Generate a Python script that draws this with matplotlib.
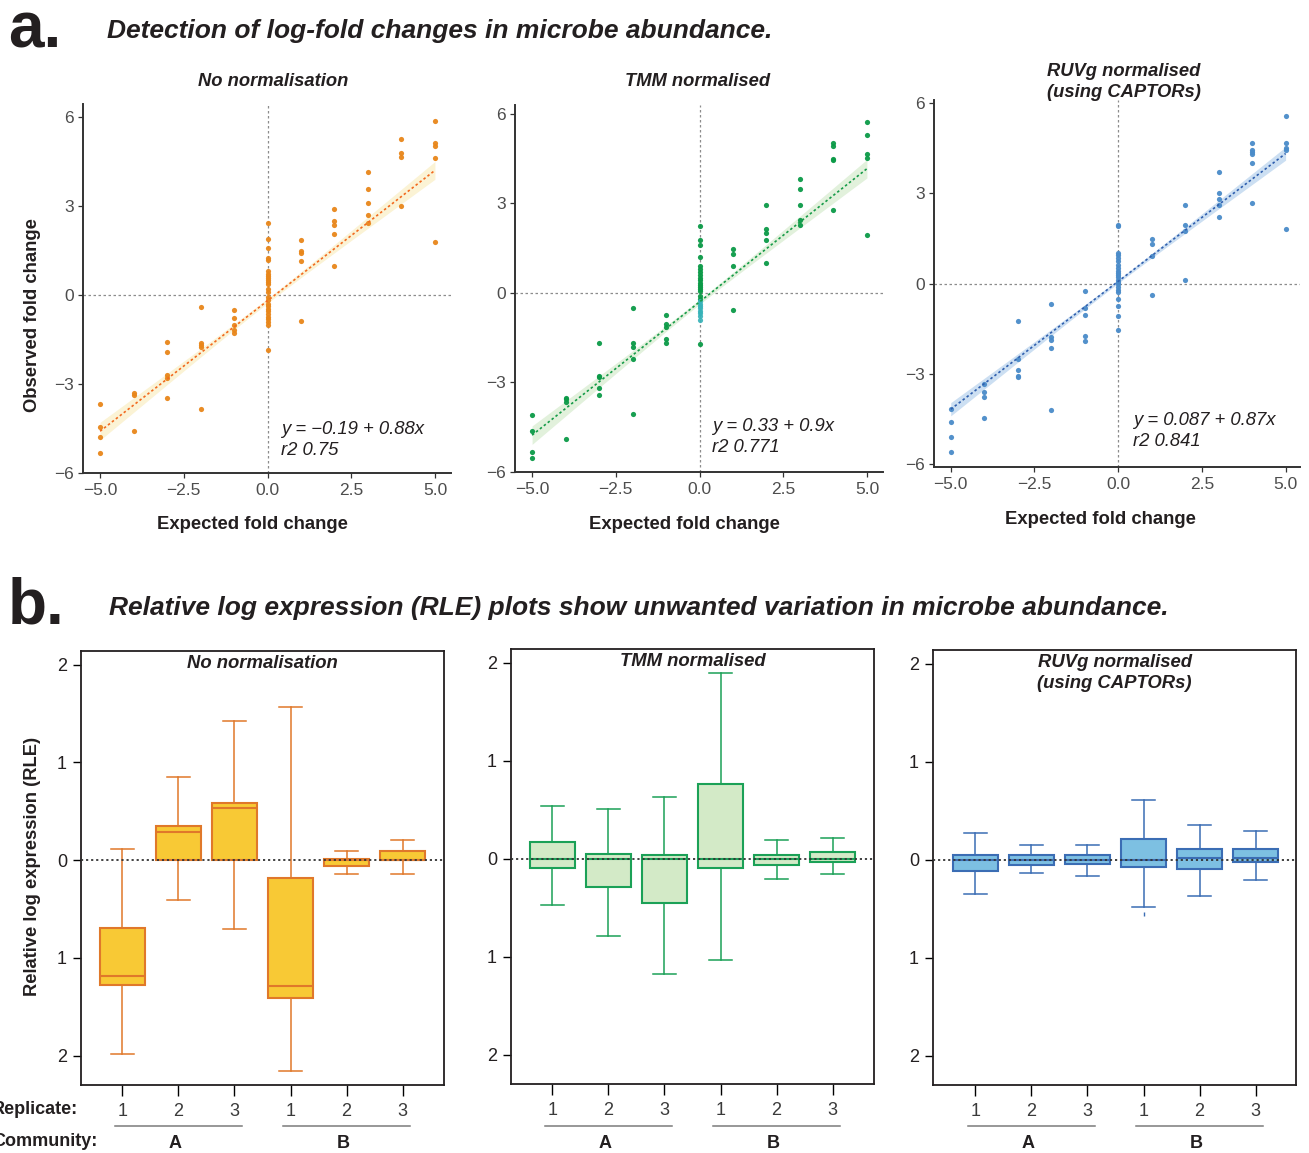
import numpy as np
import matplotlib
matplotlib.use('Agg')
import matplotlib.pyplot as plt
from matplotlib import transforms

plt.rcParams['font.family'] = ['Liberation Sans', 'DejaVu Sans']
plt.rcParams['axes.unicode_minus'] = True

W, H, DPI = 1309, 1153, 100

# ---------------- data: panel a (log-fold changes) ----------------
expected_fc = [-5, -4, -3, -2, -1, 0, 1, 2, 3, 4, 5]

obs_none = [
    [-3.68, -4.45, -4.80, -5.34],
    [-3.29, -3.37, -4.57],
    [-1.58, -1.93, -2.71, -2.79, -3.48],
    [-0.41, -1.60, -1.67, -1.75, -3.85],
    [-0.49, -0.77, -1.00, -1.16, -1.27],
    [2.44, 1.91, 1.59, 1.26, 1.17, 0.80, 0.72, 0.65, 0.58, 0.50, 0.43, 0.37,
     0.20, 0.10, -0.05, -0.15, -0.30, -0.38, -0.46, -0.55, -0.63, -0.72,
     -0.80, -0.90, -1.00, -1.86],
    [1.86, 1.50, 1.42, 1.16, -0.88],
    [2.90, 2.50, 2.36, 2.06, 0.97],
    [4.15, 3.59, 3.10, 2.71, 2.42],
    [5.26, 4.80, 4.65, 3.01],
    [5.86, 5.13, 5.04, 4.64, 1.81],
]

obs_tmm = [
    [-4.10, -4.62, -5.34, -5.54],
    [-3.52, -3.56, -3.67, -4.89],
    [-1.68, -2.77, -2.81, -3.19, -3.41],
    [-0.49, -1.67, -1.80, -2.20, -4.06],
    [-0.74, -1.05, -1.14, -1.55, -1.68],
    [2.23, 1.77, 1.60, 1.19, 0.90, 0.80, 0.70, 0.60, 0.50, 0.42, 0.35, 0.28,
     0.20, 0.12, 0.05, -0.10, -0.20, -1.70],
    [1.48, 1.32, 0.92, -0.56],
    [2.94, 2.15, 2.02, 1.79, 0.99],
    [3.83, 3.47, 2.94, 2.46, 2.27],
    [5.01, 4.93, 4.50, 4.45, 2.79],
    [5.73, 5.29, 4.66, 4.54, 1.94],
]
obs_tmm_zero_teal = [-0.28, -0.36, -0.44, -0.52, -0.60, -0.68, -0.78, -0.90]

obs_ruvg = [
    [-4.16, -4.60, -5.09, -5.60],
    [-3.34, -3.61, -3.77, -4.47],
    [-1.24, -2.50, -2.87, -3.07, -3.12],
    [-0.67, -1.79, -1.88, -2.14, -4.20],
    [-0.26, -0.80, -1.04, -1.73, -1.91],
    [1.93, 1.90, 1.02, 0.95, 0.85, 0.75, 0.60, 0.50, 0.42, 0.35, 0.28, 0.20,
     0.12, 0.05, -0.02, -0.10, -0.20, -0.29, -0.53, -0.76, -1.09, -1.53],
    [1.47, 1.31, 0.91, -0.39],
    [2.62, 1.93, 1.76, 0.11],
    [3.69, 3.02, 2.82, 2.62, 2.21],
    [4.67, 4.43, 4.37, 4.32, 4.02, 2.68],
    [5.58, 4.68, 4.49, 4.43, 1.81],
]

# fitted lines as drawn and their band half-widths
fit_intercept = [-0.19, -0.30, 0.07]
fit_slope = [0.88, 0.893, 0.85]
band_half_end = [0.30, 0.31, 0.22]
band_half_mid = [0.08, 0.08, 0.06]

fit_labels = ["y = \u22120.19 + 0.88x\nr2 0.75",
              "y = 0.33 + 0.9x\nr2 0.771",
              "y = 0.087 + 0.87x\nr2 0.841"]

# ---------------- data: panel b (RLE boxplots) ----------------
replicates = ['1', '2', '3', '1', '2', '3']
communities = ['A', 'B']

rle_none_whislo = [-1.98, -0.41, -0.70, -2.16, -0.14, -0.14]
rle_none_q1 = [-1.28, 0.00, 0.00, -1.41, -0.055, 0.00]
rle_none_med = [-1.19, 0.29, 0.53, -1.29, 0.00, 0.00]
rle_none_q3 = [-0.69, 0.35, 0.59, -0.18, 0.014, 0.095]
rle_none_whishi = [0.11, 0.85, 1.42, 1.57, 0.09, 0.21]

rle_tmm_whislo = [-0.47, -0.79, -1.18, -1.03, -0.21, -0.16]
rle_tmm_q1 = [-0.095, -0.29, -0.45, -0.10, -0.06, -0.035]
rle_tmm_med = [0.00, 0.00, 0.00, 0.00, 0.00, 0.00]
rle_tmm_q3 = [0.17, 0.044, 0.04, 0.76, 0.04, 0.07]
rle_tmm_whishi = [0.54, 0.51, 0.63, 1.89, 0.19, 0.21]

rle_ruvg_whislo = [-0.35, -0.14, -0.17, -0.48, -0.37, -0.21]
rle_ruvg_q1 = [-0.12, -0.05, -0.04, -0.07, -0.10, -0.02]
rle_ruvg_med = [0.00, 0.00, 0.00, 0.00, 0.02, 0.02]
rle_ruvg_q3 = [0.044, 0.044, 0.044, 0.21, 0.11, 0.11]
rle_ruvg_whishi = [0.27, 0.15, 0.15, 0.61, 0.35, 0.29]
rle_ruvg_fliers = [[], [], [], [-0.55], [], []]

# ---------------- figure ----------------
fig = plt.figure(figsize=(W / DPI, H / DPI), dpi=DPI)
TXT = '#231F20'


def ax_px(l, t, r, b):
    return fig.add_axes([l / W, 1 - b / H, (r - l) / W, (b - t) / H])


def ftext(x, y, s, **kw):
    kw.setdefault('va', 'center')
    kw.setdefault('color', TXT)
    return fig.text(x / W, 1 - y / H, s, **kw)


# headings
ftext(8, 30, 'a.', fontsize=46, fontweight='bold', ha='left')
ftext(107, 31, 'Detection of log-fold changes in microbe abundance.',
      fontsize=19, fontweight='bold', style='italic', ha='left')
ftext(8, 606, 'b.', fontsize=46, fontweight='bold', ha='left')
ftext(109, 608, 'Relative log expression (RLE) plots show unwanted variation in microbe abundance.',
      fontsize=19, fontweight='bold', style='italic', ha='left')

# ---------------- panel a ----------------
scatter_specs = [
    dict(box=(83, 104, 451, 473), xlim=(-5.51, 5.48), ylim=(-6.0, 6.45),
         obs=obs_none, col='#E8861A', line='#F26A1F', band='#FBF3D5',
         title='No normalisation', ttl=(273, 82), xl=(252, 524),
         ann=(281, 440)),
    dict(box=(515, 105, 883, 472), xlim=(-5.51, 5.48), ylim=(-6.0, 6.3),
         obs=obs_tmm, col='#0B9A47', line='#169B48', band='#E2F1DC',
         title='TMM normalised', ttl=(698, 82), xl=(684, 524),
         ann=(712, 437)),
    dict(box=(934, 100, 1300, 467), xlim=(-5.5, 5.43), ylim=(-6.1, 6.1),
         obs=obs_ruvg, col='#4A8BC9', line='#2F5FAE', band='#CCDFF2',
         title='RUVg normalised\n(using CAPTORs)', ttl=(1124, 82), xl=(1100, 519),
         ann=(1133, 431)),
]

for i, sp in enumerate(scatter_specs):
    ax = ax_px(*sp['box'])
    xs = np.concatenate([[x] * len(v) for x, v in zip(expected_fc, sp['obs'])])
    ys = np.concatenate([np.asarray(v, float) for v in sp['obs']])
    xg = np.linspace(min(expected_fc), max(expected_fc), 100)
    yg = fit_intercept[i] + fit_slope[i] * xg
    frac = (xg / max(expected_fc)) ** 2
    hw = np.sqrt(band_half_mid[i] ** 2 + (band_half_end[i] ** 2 - band_half_mid[i] ** 2) * frac)
    ax.fill_between(xg, yg - hw, yg + hw, color=sp['band'], lw=0, zorder=1)
    ax.axhline(0, color='#8C8C8C', lw=0.9, ls=(0, (2, 2)), zorder=0.5)
    ax.axvline(0, color='#8C8C8C', lw=0.9, ls=(0, (2, 2)), zorder=0.5)
    ax.scatter(xs, ys, s=14, color=sp['col'], lw=0, zorder=3, alpha=0.95)
    if i == 1:
        ax.scatter([0] * len(obs_tmm_zero_teal), obs_tmm_zero_teal, s=14,
                   color='#35B2B8', lw=0, zorder=3.5, alpha=0.9)
    ax.plot(xg, yg, color=sp['line'], lw=1.2, ls=(0, (1.5, 1.5)), zorder=4)

    ax.set_xlim(*sp['xlim'])
    ax.set_ylim(*sp['ylim'])
    ax.set_xticks([-5, -2.5, 0, 2.5, 5])
    ax.set_xticklabels(['\u22125.0', '\u22122.5', '0.0', '2.5', '5.0'])
    ax.set_yticks([-6, -3, 0, 3, 6])
    ax.set_yticklabels(['\u22126', '\u22123', '0', '3', '6'])
    for side in ('top', 'right'):
        ax.spines[side].set_visible(False)
    for side in ('left', 'bottom'):
        ax.spines[side].set_color('#333333')
        ax.spines[side].set_linewidth(1.4)
    ax.tick_params(axis='both', direction='out', length=3.5, width=0.9,
                   color='#333333', labelsize=12.5, labelcolor='#4D4D4D', pad=3)
    ax.tick_params(axis='x', pad=4)
    ax.set_facecolor('none')

    ftext(*sp['ttl'], sp['title'], fontsize=13.2, fontweight='bold',
          style='italic', ha='center', linespacing=1.25)
    ftext(*sp['xl'], 'Expected fold change', fontsize=13.3, fontweight='bold',
          ha='center')
    ftext(*sp['ann'], fit_labels[i], fontsize=13.3, style='italic', ha='left',
          linespacing=1.3)

ftext(33, 315, 'Observed fold change', fontsize=13.3, fontweight='bold',
      ha='center', rotation=90)

# ---------------- panel b ----------------
box_specs = [
    dict(box=(81, 651, 444, 1085), xlim=(0.26, 6.74),
         stats=(rle_none_whislo, rle_none_q1, rle_none_med, rle_none_q3, rle_none_whishi),
         fliers=None, fill='#F8C935', edge='#E0782A',
         title='No normalisation', ttl=(262, 664)),
    dict(box=(511, 649, 874, 1084), xlim=(0.26, 6.74),
         stats=(rle_tmm_whislo, rle_tmm_q1, rle_tmm_med, rle_tmm_q3, rle_tmm_whishi),
         fliers=None, fill='#D3EAC7', edge='#1BA157',
         title='TMM normalised', ttl=(687, 661)),
    dict(box=(933, 650, 1296, 1085), xlim=(0.245, 6.72),
         stats=(rle_ruvg_whislo, rle_ruvg_q1, rle_ruvg_med, rle_ruvg_q3, rle_ruvg_whishi),
         fliers=rle_ruvg_fliers, fill='#7DC0E2', edge='#3B6DB4',
         title='RUVg normalised\n(using CAPTORs)', ttl=(1114, 673)),
]

positions = np.arange(1, len(replicates) + 1)
for sp in box_specs:
    ax = ax_px(*sp['box'])
    lo, q1, med, q3, hi = sp['stats']
    bstats = []
    for k in range(len(replicates)):
        d = dict(whislo=lo[k], q1=q1[k], med=med[k], q3=q3[k], whishi=hi[k])
        d['fliers'] = sp['fliers'][k] if sp['fliers'] else []
        bstats.append(d)
    ax.bxp(bstats, positions=positions, widths=0.8, patch_artist=True,
           showfliers=True,
           boxprops=dict(facecolor=sp['fill'], edgecolor=sp['edge'], linewidth=1.5),
           medianprops=dict(color=sp['edge'], linewidth=1.5),
           whiskerprops=dict(color=sp['edge'], linewidth=1.1),
           capprops=dict(color=sp['edge'], linewidth=1.1),
           capwidths=0.4,
           flierprops=dict(marker='|', markersize=3, markeredgecolor=sp['edge'],
                           markeredgewidth=1.0))
    ax.axhline(0, color='#333333', lw=1.3, ls=(0, (1.2, 1.6)), zorder=5)
    ax.set_xlim(*sp['xlim'])
    ax.set_ylim(-2.30, 2.14)
    ax.set_yticks([2, 1, 0, -1, -2])
    ax.set_yticklabels(['2', '1', '0', '1', '2'])
    ax.set_xticks(positions)
    ax.set_xticklabels(replicates)
    for side in ax.spines.values():
        side.set_color('#231F20')
        side.set_linewidth(1.3)
    ax.tick_params(axis='y', direction='out', length=6, width=1.0,
                   labelsize=13, labelcolor=TXT, pad=4)
    ax.tick_params(axis='x', direction='out', length=8, width=1.0,
                   labelsize=13, labelcolor='#3A3A3A', pad=5)
    ax.text(0.5, 1 - (sp['ttl'][1] - sp['box'][1]) / (sp['box'][3] - sp['box'][1]),
            sp['title'], transform=ax.transAxes, ha='center', va='center',
            fontsize=13.3, fontweight='bold', style='italic', color=TXT,
            linespacing=1.3)

    # community group lines and labels
    tr = transforms.blended_transform_factory(ax.transData, fig.transFigure)
    for g, name in enumerate(communities):
        p0 = positions[3 * g]
        p1 = positions[3 * g + 2]
        ax.plot([p0 - 0.13, p1 + 0.13], [1 - 1126 / H] * 2, transform=tr,
                color='#7A7A7A', lw=1.1, clip_on=False)
        ax.text((p0 + p1) / 2 - 0.06, 1 - 1143 / H, name, transform=tr, ha='center',
                va='center', fontsize=13, fontweight='bold', color=TXT)

ftext(33, 866, 'Relative log expression (RLE)', fontsize=13.2, fontweight='bold',
      ha='center', rotation=90)
ftext(78, 1109, 'Replicate:', fontsize=13, fontweight='bold', ha='right')
ftext(98, 1142, 'Community:', fontsize=13, fontweight='bold', ha='right')

fig.savefig('out.png', dpi=DPI)
